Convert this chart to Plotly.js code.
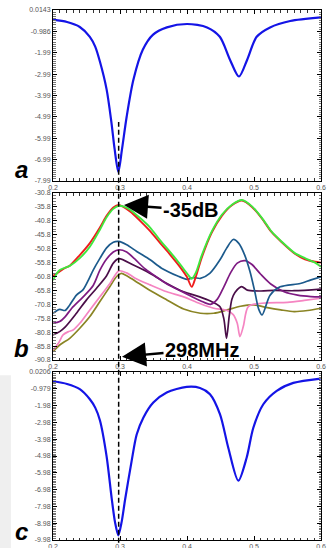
<!DOCTYPE html>
<html><head><meta charset="utf-8">
<script src="https://cdn.plot.ly/plotly-3.0.1.min.js"></script>
<style>html,body{margin:0;padding:0;background:#fff;}#chart{width:333px;height:548px;}</style>
</head><body><div id="chart"></div>
<script>
// ---------- data ----------
const xTickText = ['0.2', '0.3', '0.4', '0.5', '0.6'];

// panel a
const aX = [0.200, 0.221, 0.240, 0.255, 0.263, 0.270, 0.280, 0.287, 0.292, 0.2975, 0.303, 0.310, 0.320, 0.334, 0.349, 0.370, 0.400, 0.430, 0.449, 0.464, 0.4776, 0.490, 0.504, 0.524, 0.554, 0.600];
const aY = [-0.44, -0.55, -0.78, -1.24, -1.7, -2.4, -3.7, -5.2, -6.5, -7.57, -6.5, -4.97, -3.25, -1.85, -1.15, -0.8, -0.64, -0.8, -1.24, -2.3, -3.1, -2.3, -1.24, -0.8, -0.5, -0.33];
const aTickText = ['0.0143', '-0.986', '-1.99', '-2.99', '-3.99', '-4.99', '-5.99', '-6.99', '-7.99'];

// panel b
const bTickText = ['-30.8', '-35.8', '-40.8', '-45.8', '-50.8', '-55.8', '-60.8', '-65.8', '-70.8', '-75.8', '-80.8', '-85.8', '-90.8'];

const redX = [0.200, 0.210, 0.218, 0.225, 0.240, 0.255, 0.270, 0.280, 0.290, 0.298, 0.315, 0.330, 0.345, 0.360, 0.375, 0.390, 0.400, 0.407, 0.413, 0.422, 0.437, 0.452, 0.467, 0.482, 0.497, 0.512, 0.526, 0.541, 0.561, 0.576, 0.591, 0.600];
const redY = [-60.6, -59.0, -57.7, -56.9, -53.1, -48.8, -43.2, -39.0, -36.0, -35.1, -37.4, -40.8, -44.5, -48.8, -53.0, -57.5, -61.0, -64.5, -61.0, -54.0, -45.0, -39.0, -35.2, -33.5, -35.8, -40.0, -44.8, -48.4, -52.6, -54.6, -55.5, -55.8];

const greenX = [0.200, 0.210, 0.225, 0.240, 0.255, 0.270, 0.280, 0.290, 0.298, 0.305, 0.315, 0.330, 0.345, 0.360, 0.375, 0.390, 0.402, 0.407, 0.413, 0.422, 0.437, 0.452, 0.467, 0.482, 0.497, 0.512, 0.526, 0.541, 0.561, 0.576, 0.591, 0.600];
const greenY = [-62.1, -58.5, -57.0, -54.2, -50.1, -44.0, -39.5, -36.5, -35.4, -35.6, -36.8, -39.8, -43.2, -47.8, -52.0, -56.5, -60.3, -61.6, -59.5, -53.2, -44.6, -38.6, -35.0, -33.3, -35.6, -39.8, -44.6, -48.2, -52.4, -54.2, -55.8, -57.3];

const blueX = [0.200, 0.210, 0.218, 0.225, 0.235, 0.245, 0.253, 0.260, 0.270, 0.280, 0.290, 0.298, 0.310, 0.325, 0.345, 0.362, 0.387, 0.400, 0.410, 0.420, 0.434, 0.449, 0.459, 0.469, 0.477, 0.486, 0.494, 0.501, 0.507, 0.512, 0.524, 0.539, 0.569, 0.584, 0.600];
const blueY = [-74.0, -72.6, -73.0, -71.0, -67.5, -65.5, -62.0, -58.5, -54.3, -50.5, -48.5, -48.2, -49.4, -51.8, -54.8, -57.8, -60.7, -61.8, -61.2, -61.5, -59.7, -54.9, -50.7, -47.5, -48.8, -53.0, -59.0, -66.0, -72.5, -74.6, -67.5, -64.5, -63.3, -62.1, -60.9];

const purpleX = [0.200, 0.210, 0.218, 0.228, 0.245, 0.260, 0.270, 0.280, 0.290, 0.298, 0.310, 0.322, 0.337, 0.352, 0.370, 0.395, 0.420, 0.435, 0.445, 0.455, 0.465, 0.475, 0.4866, 0.497, 0.510, 0.525, 0.545, 0.565, 0.585, 0.600];
const purpleY = [-77.6, -77.0, -75.3, -72.2, -68.1, -64.0, -58.5, -54.5, -52.0, -51.2, -52.0, -54.5, -58.0, -60.5, -63.5, -66.5, -69.5, -70.8, -69.0, -64.5, -59.5, -56.0, -55.1, -56.5, -60.0, -63.5, -66.3, -67.5, -68.0, -68.1];

const darkX = [0.200, 0.210, 0.218, 0.235, 0.250, 0.265, 0.280, 0.290, 0.298, 0.320, 0.345, 0.370, 0.395, 0.419, 0.434, 0.449, 0.455, 0.459, 0.463, 0.467, 0.4716, 0.4816, 0.490, 0.510, 0.530, 0.560, 0.600];
const darkY = [-81.8, -80.6, -79.0, -74.0, -69.2, -65.0, -60.5, -56.0, -54.4, -56.7, -59.7, -63.3, -66.3, -68.1, -69.5, -71.6, -76.0, -83.0, -75.0, -69.0, -66.5, -64.4, -65.7, -66.0, -65.8, -65.9, -65.3];

const pinkX = [0.200, 0.208, 0.215, 0.223, 0.230, 0.240, 0.255, 0.270, 0.285, 0.298, 0.310, 0.322, 0.345, 0.370, 0.395, 0.419, 0.440, 0.460, 0.469, 0.475, 0.479, 0.484, 0.4915, 0.5115, 0.550, 0.575, 0.600];
const pinkY = [-87.2, -84.8, -81.8, -80.6, -80.0, -77.6, -72.8, -68.1, -63.3, -58.8, -59.5, -61.3, -63.8, -66.3, -68.1, -70.5, -72.2, -73.0, -74.5, -77.6, -82.4, -78.8, -71.6, -70.4, -70.1, -69.4, -68.6];

const oliveX = [0.200, 0.210, 0.225, 0.240, 0.255, 0.270, 0.285, 0.295, 0.302, 0.310, 0.322, 0.345, 0.370, 0.395, 0.420, 0.440, 0.460, 0.480, 0.500, 0.520, 0.540, 0.560, 0.580, 0.600];
const oliveY = [-87.8, -85.4, -83.0, -79.4, -75.2, -69.8, -64.4, -60.8, -59.7, -60.5, -62.3, -65.8, -69.2, -72.5, -74.0, -74.0, -72.8, -71.5, -71.0, -72.0, -72.8, -73.4, -73.0, -72.2];

// panel c
const cX = [0.200, 0.221, 0.240, 0.255, 0.263, 0.270, 0.280, 0.2876, 0.2925, 0.2975, 0.3025, 0.3075, 0.3174, 0.3249, 0.3348, 0.3497, 0.3697, 0.3995, 0.4194, 0.4343, 0.4493, 0.4617, 0.4766, 0.4891, 0.4990, 0.5139, 0.5339, 0.5587, 0.5995];
const cY = [-0.53, -0.69, -1.0, -1.6, -2.1, -2.85, -5.0, -7.5, -8.9, -9.7, -8.9, -7.6, -5.27, -3.7, -2.7, -1.8, -1.2, -0.87, -0.93, -1.3, -2.5, -4.5, -6.45, -5.07, -3.3, -1.9, -1.1, -0.63, -0.37];
const cTickText = ['0.0206', '-0.979', '-1.98', '-2.98', '-3.98', '-4.98', '-5.98', '-6.98', '-7.98', '-8.98', '-9.98'];

const markFreq = 0.298;

// ---------- build ----------
function ln(x, y, color, width, xa, ya) {
  return {x: x, y: y, xaxis: xa, yaxis: ya, type: 'scatter', mode: 'lines',
          line: {color: color, width: width, shape: 'spline', smoothing: 0.8},
          hoverinfo: 'skip', showlegend: false};
}
const traces = [
  ln(aX, aY, '#1414e6', 2.2, 'x', 'y'),
  ln(oliveX, oliveY, '#8a8424', 1.7, 'x2', 'y2'),
  ln(pinkX, pinkY, '#f585c2', 1.7, 'x2', 'y2'),
  ln(darkX, darkY, '#4a0e48', 1.7, 'x2', 'y2'),
  ln(purpleX, purpleY, '#7e1a82', 1.7, 'x2', 'y2'),
  ln(blueX, blueY, '#1c5a8c', 1.7, 'x2', 'y2'),
  ln(redX, redY, '#ee1c1c', 1.9, 'x2', 'y2'),
  ln(greenX, greenY, '#3ee83e', 1.9, 'x2', 'y2'),
  ln(cX, cY, '#1414e6', 2.2, 'x3', 'y3')
];

const tickFont = {family: 'Liberation Sans, Arial, sans-serif', size: 7, color: '#555'};
const xTickVals = xTickText.map(Number);
function xAx(anchor) {
  return {anchor: anchor, range: [0.2, 0.6], tickmode: 'array', tickvals: xTickVals, ticktext: xTickText,
          ticks: 'inside', ticklen: 4, tickcolor: '#000', showline: true, linecolor: '#000', linewidth: 1,
          mirror: 'allticks', showgrid: false, zeroline: false, tickfont: tickFont,
          minor: {tickmode: 'linear', tick0: 0.2, dtick: 0.01, ticks: 'inside', ticklen: 2.5, tickcolor: '#333', showgrid: false}};
}
function yAx(anchor, dom, txt, minorD) {
  const vals = txt.map(Number);
  return {anchor: anchor, domain: dom, range: [vals[vals.length - 1], vals[0]], tickmode: 'array', tickvals: vals, ticktext: txt,
          ticks: 'inside', ticklen: 4, tickcolor: '#000', showline: true, linecolor: '#000', linewidth: 1,
          mirror: 'allticks', showgrid: false, zeroline: false, tickfont: tickFont,
          minor: {tickmode: 'linear', tick0: vals[0], dtick: minorD, ticks: 'inside', ticklen: 2.5, tickcolor: '#777', showgrid: false}};
}

const letterFont = {family: 'Liberation Sans, Arial, sans-serif', size: 24, color: '#000'};
const layout = {
  width: 333, height: 548,
  margin: {l: 53, r: 12, t: 10, b: 8},
  paper_bgcolor: '#fff', plot_bgcolor: '#fff',
  showlegend: false,
  xaxis: xAx('y'), xaxis2: xAx('y2'), xaxis3: xAx('y3'),
  yaxis: yAx('x', [0.6774, 1.0], aTickText, 0.1),
  yaxis2: yAx('x2', [0.3396, 0.6547], bTickText, 1),
  yaxis3: yAx('x3', [0.0, 0.3170], cTickText, 0.1),
  shapes: [
    {type: 'rect', xref: 'paper', yref: 'paper', x0: -0.198, x1: -0.157, y0: -0.02, y1: 0.311,
     fillcolor: '#efefef', line: {width: 0}, layer: 'below'},
    {type: 'line', xref: 'x', yref: 'paper', x0: markFreq, x1: markFreq, y0: -0.005, y1: 0.7887,
     line: {color: '#000', width: 1.5, dash: '5px,3px'}}
  ],
  annotations: [
    {xref: 'paper', yref: 'paper', x: -0.119, y: 0.70, xanchor: 'center', yanchor: 'middle',
     text: '<b><i>a</i></b>', showarrow: false, font: letterFont},
    {xref: 'paper', yref: 'paper', x: -0.119, y: 0.3604, xanchor: 'center', yanchor: 'middle',
     text: '<b><i>b</i></b>', showarrow: false, font: letterFont},
    {xref: 'paper', yref: 'paper', x: -0.119, y: 0.0160, xanchor: 'center', yanchor: 'middle',
     text: '<b><i>c</i></b>', showarrow: false, font: letterFont},
    {xref: 'x2', yref: 'y2', x: 0.306, y: -35.1, ax: 67, ay: 5, text: '<b>-35dB</b>', showarrow: true,
     arrowhead: 2, arrowsize: 2, arrowwidth: 2.4, arrowcolor: '#000', standoff: 0,
     font: {family: 'Liberation Sans, Arial, sans-serif', size: 20, color: '#000'}},
    {xref: 'x2', yref: 'y2', x: 0.303, y: -89.6, ax: 80, ay: -7, text: '<b>298MHz</b>', showarrow: true,
     arrowhead: 2, arrowsize: 2, arrowwidth: 2.4, arrowcolor: '#000', standoff: 0,
     font: {family: 'Liberation Sans, Arial, sans-serif', size: 20, color: '#000'}}
  ]
};

Plotly.newPlot('chart', traces, layout, {staticPlot: true, displayModeBar: false});
</script></body></html>
